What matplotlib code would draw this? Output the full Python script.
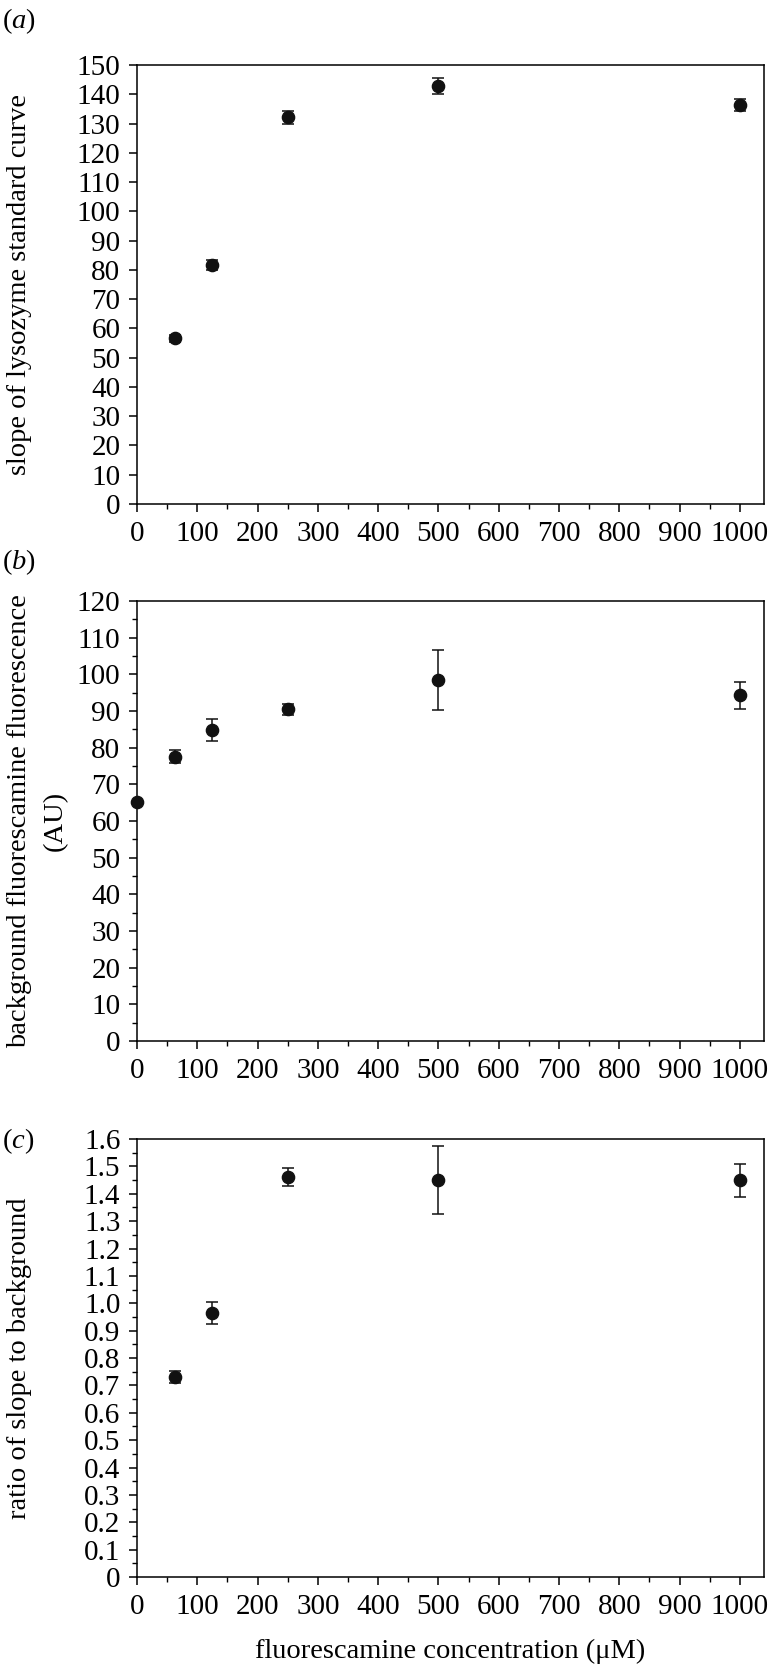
import matplotlib
matplotlib.use("Agg")
import matplotlib.pyplot as plt
from matplotlib.ticker import MultipleLocator

plt.rcParams["font.family"] = ["Liberation Serif", "DejaVu Serif"]
plt.rcParams["mathtext.fontset"] = "custom"
plt.rcParams["mathtext.rm"] = "Liberation Serif"
plt.rcParams["mathtext.it"] = "Liberation Serif:italic"

# (a) slope of lysozyme standard curve
conc_a = [62.5, 125, 250, 500, 1000]
slope = [56.7, 81.7, 132.1, 142.7, 136.3]
slope_err = [1.2, 1.7, 2.2, 2.7, 2.0]

# (b) background fluorescence
conc_b = [0, 62.5, 125, 250, 500, 1000]
background = [65.3, 77.5, 84.8, 90.5, 98.5, 94.3]
background_err = [0.0, 1.8, 3.0, 1.5, 8.2, 3.7]

# (c) ratio of slope to background
conc_c = [62.5, 125, 250, 500, 1000]
ratio = [0.732, 0.965, 1.461, 1.451, 1.449]
ratio_err = [0.022, 0.040, 0.033, 0.124, 0.061]

x_ticks = list(range(0, 1001, 100))

W, H = 770, 1667
fig = plt.figure(figsize=(W / 100, H / 100), dpi=100)

left = 137 / W
width = (764 - 137) / W
fs = 20.5      # labels
fs_tick = 21   # tick labels


def make_axes(top, bottom):
    return fig.add_axes([left, 1 - bottom / H, width, (bottom - top) / H])


def style(ax, ymax, ymajor, yminor=None):
    ax.set_xlim(0, 1040)
    ax.set_ylim(0, ymax)
    ax.set_xticks(x_ticks)
    ax.xaxis.set_minor_locator(MultipleLocator(50))
    ax.yaxis.set_major_locator(MultipleLocator(ymajor))
    if yminor:
        ax.yaxis.set_minor_locator(MultipleLocator(yminor))
    ax.tick_params(which="major", direction="out", length=6, width=1.1,
                   labelsize=fs_tick, top=False, right=False)
    ax.tick_params(axis="x", which="major", pad=6)
    ax.tick_params(axis="y", which="major", pad=6)
    ax.tick_params(which="minor", direction="out", length=3.5, width=1.0,
                   top=False, right=False)
    for s in ax.spines.values():
        s.set_linewidth(1.1)


def points(ax, x, y, err):
    ax.errorbar(x, y, yerr=err, fmt="o", color="#111111", ms=8.8,
                capsize=4.6, elinewidth=1.1, capthick=1.1, clip_on=False,
                zorder=3)


# panel a
ax_a = make_axes(65, 504)
points(ax_a, conc_a, slope, slope_err)
style(ax_a, 150, 10)

# panel b
ax_b = make_axes(601, 1041)
points(ax_b, conc_b, background, background_err)
style(ax_b, 120, 10, 5)

# panel c
ax_c = make_axes(1139, 1577)
points(ax_c, conc_c, ratio, ratio_err)
style(ax_c, 1.6, 0.1, 0.05)
ax_c.yaxis.set_major_formatter(plt.FuncFormatter(lambda v, p: f"{v:.1f}" if v > 0 else "0"))

# panel letters
fig.text(2 / W, 1 - 21 / H, r"($\mathit{a}$)", fontsize=fs, va="center")
fig.text(2 / W, 1 - 562 / H, r"($\mathit{b}$)", fontsize=fs, va="center")
fig.text(2 / W, 1 - 1141 / H, r"($\mathit{c}$)", fontsize=fs, va="center")

# axis labels
fig.text(20 / W, 1 - 284 / H, "slope of lysozyme standard curve",
         rotation=90, fontsize=fs, ha="center", va="center")
fig.text(20 / W, 1 - 821 / H, "background fluorescamine fluorescence",
         rotation=90, fontsize=fs, ha="center", va="center")
fig.text(55 / W, 1 - 821 / H, "(AU)",
         rotation=90, fontsize=fs, ha="center", va="center")
fig.text(20 / W, 1 - 1358 / H, "ratio of slope to background",
         rotation=90, fontsize=fs, ha="center", va="center")
fig.text((137 + 764) / 2 / W, 1 - 1651 / H, "fluorescamine concentration (\u03bcM)",
         fontsize=fs, ha="center", va="center")

fig.savefig("out.png", dpi=100)
